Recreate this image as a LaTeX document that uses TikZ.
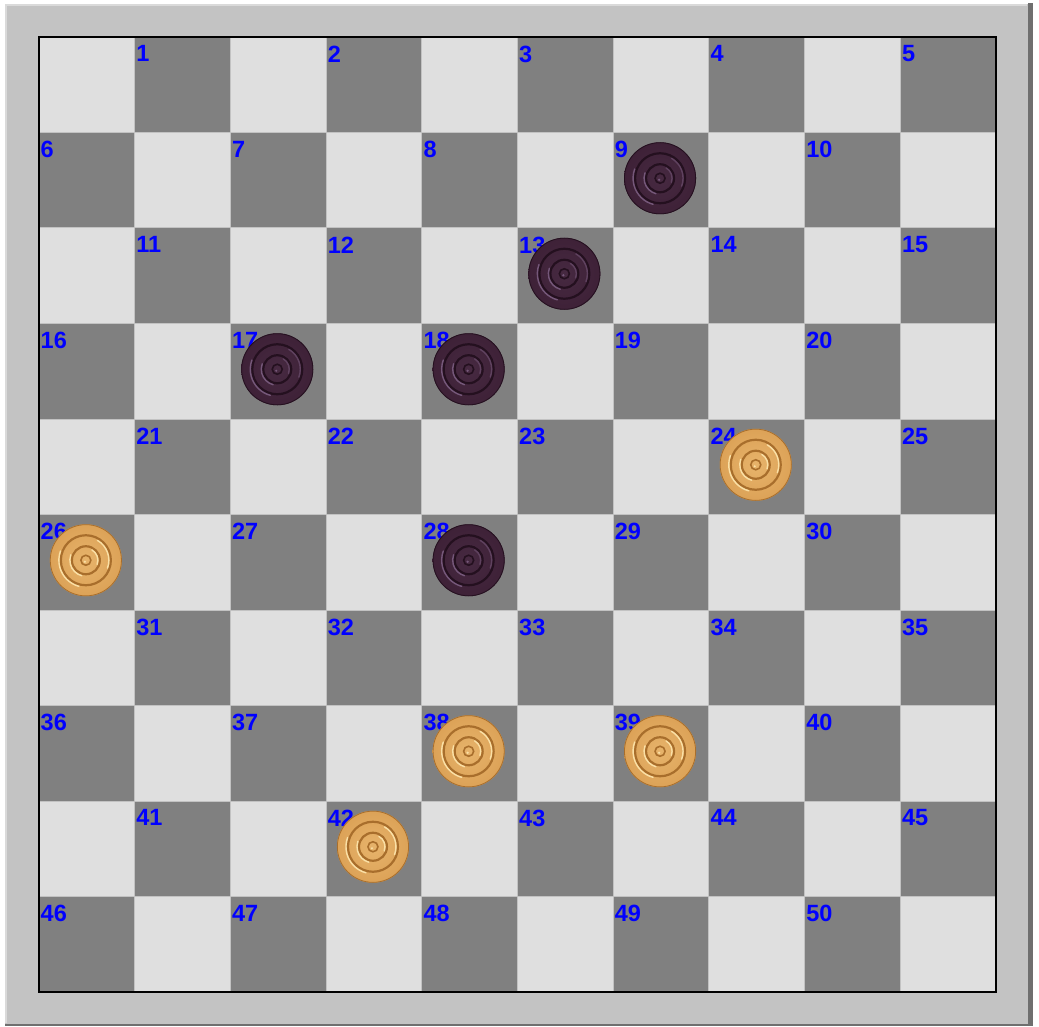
\documentclass[tikz,border=0pt]{standalone}
\usepackage{fontspec}
\setmainfont{Liberation Sans}
\usepackage{xcolor}
\usepackage{tikz}
\usetikzlibrary{positioning, calc}

\definecolor{framegrey}{HTML}{C3C3C3}
\definecolor{framedark}{HTML}{6F6F6F}
\definecolor{framelight}{HTML}{DADADA}
\definecolor{sqlight}{HTML}{DFDFDF}
\definecolor{sqdark}{HTML}{808080}
\definecolor{gridline}{HTML}{C2C2C2}
\definecolor{numblue}{HTML}{0000FF}
\definecolor{darkbase}{HTML}{3E2137}
\definecolor{darkgroove}{HTML}{24101F}
\definecolor{darkhi}{HTML}{75587A}
\definecolor{goldbase}{HTML}{E2A85C}
\definecolor{goldgroove}{HTML}{A86E2C}
\definecolor{goldhi}{HTML}{FAE0A6}

\tikzset{
  sqnum/.style={anchor=north west, inner sep=0pt, text=numblue,
    font=\bfseries\fontsize{23.5}{24}\selectfont},
  groove/.style={line width=2.2},
  shine/.style={line width=1.4, line cap=round},
}

\begin{document}
\begin{tikzpicture}[x=1pt, y=-1pt]
  \useasboundingbox (0,0) rectangle (1039,1027);
  \fill[white] (0,0) rectangle (1039,1027);
  % frame
  \fill[framegrey] (5,4) rectangle (1028,1024);
  \fill[framedark] (1028,3) rectangle (1033,1026);
  \fill[framedark] (5,1024) rectangle (1033,1026);
  \draw[framelight, line width=2] (6,1023) -- (6,5) -- (1027,5);
  % board
  \fill[sqlight] (39,37) rectangle (996,992);
  \foreach \r in {0,...,9} {
    \foreach \c in {0,...,9} {
      \pgfmathtruncatemacro{\odd}{mod(\r+\c,2)}
      \ifnum\odd=1
        \fill[sqdark] ({39+\c*95.7},{37+\r*95.5}) rectangle ++(95.7,95.5);
      \fi
    }
  }
  \foreach \i in {1,...,9} {
    \draw[gridline, line width=1] ({39+\i*95.7},37) -- ({39+\i*95.7},992);
    \draw[gridline, line width=1] (39,{37+\i*95.5}) -- (996,{37+\i*95.5});
  }
  \draw[black, line width=2] (39,37) rectangle (996,992);
  % square numbers
  \foreach \r in {0,...,9} {
    \foreach \c in {0,...,9} {
      \pgfmathtruncatemacro{\odd}{mod(\r+\c,2)}
      \ifnum\odd=1
        \pgfmathtruncatemacro{\num}{\r*5+floor(\c/2)+1}
        \node[sqnum] (n\num) at ({39+\c*95.7+1.5},{37+\r*95.5+8.5}) {\num};
      \fi
    }
  }
  % dark pieces
  \foreach \nm/\c/\r in {9/6/1, 13/5/2, 17/2/3, 18/4/3, 28/4/5} {
    \coordinate (d\nm) at ({39+(\c+0.5)*95.7-1},{37+(\r+0.5)*95.5-2});
    \shade[inner color=darkbase!85!darkhi, outer color=darkbase] (d\nm) circle (36);
    \draw[darkgroove, line width=0.8] (d\nm) circle (35.6);
    \foreach \rad in {25,14} {
      \draw[darkgroove, groove] (d\nm) circle (\rad);
      \draw[darkhi, shine] ($(d\nm)+(105:\rad+2)$) arc[start angle=105, end angle=200, radius=\rad+2];
      \draw[darkhi!60!darkbase, shine] ($(d\nm)+(-60:\rad-2)$) arc[start angle=-60, end angle=20, radius=\rad-2];
    }
    \draw[darkgroove, line width=1.6] (d\nm) circle (5);
    \fill[darkhi] ($(d\nm)+(-1,1.5)$) circle (1.2);
  }
  % light pieces
  \foreach \nm/\c/\r in {24/7/4, 26/0/5, 38/4/7, 39/6/7, 42/3/8} {
    \coordinate (g\nm) at ({39+(\c+0.5)*95.7-1},{37+(\r+0.5)*95.5-2});
    \shade[inner color=goldbase!80!goldhi, outer color=goldbase!90!goldgroove] (g\nm) circle (36);
    \draw[goldgroove, line width=0.8] (g\nm) circle (35.6);
    \foreach \rad in {25,14} {
      \draw[goldgroove, groove] (g\nm) circle (\rad);
      \draw[goldhi, shine] ($(g\nm)+(105:\rad+2)$) arc[start angle=105, end angle=200, radius=\rad+2];
      \draw[goldhi, shine] ($(g\nm)+(-60:\rad-2)$) arc[start angle=-60, end angle=20, radius=\rad-2];
    }
    \draw[goldgroove, line width=1.6] (g\nm) circle (5);
    \fill[goldhi] ($(g\nm)+(-1,1.5)$) circle (1.2);
  }
\end{tikzpicture}
\end{document}
